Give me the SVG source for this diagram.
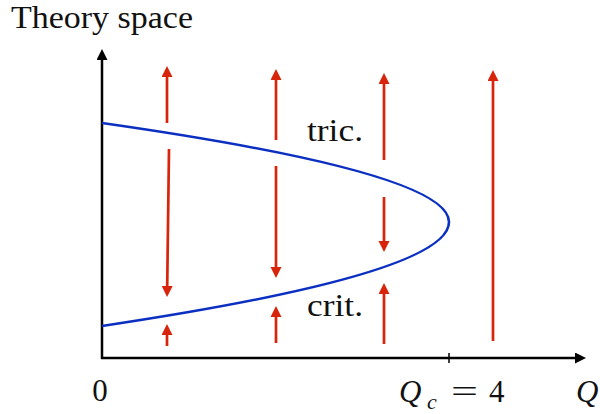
<svg xmlns="http://www.w3.org/2000/svg" width="600" height="414" viewBox="0 0 600 414">
<style>
text{font-family:"Liberation Serif","DejaVu Serif",serif;font-size:31px;fill:#111}
.it{font-style:italic}
.axis{stroke:#000;stroke-width:2.5;fill:none}
.flow{stroke:#d8240a;stroke-width:2.7;fill:none;marker-end:url(#rh)}
.curve{stroke:#0b2fc1;stroke-width:2.6;fill:none}
</style>
<defs>
<marker id="rh" markerUnits="userSpaceOnUse" markerWidth="12" markerHeight="12" refX="1" refY="5.5" orient="auto">
<path d="M0,0 L11,5.5 L0,11 z" fill="#d8240a"/>
</marker>
<marker id="kh" markerUnits="userSpaceOnUse" markerWidth="12" markerHeight="12" refX="1" refY="5.5" orient="auto">
<path d="M0,0 L11,5.5 L0,11 z" fill="#000"/>
</marker>
</defs>
<g id="axes">
<line class="axis" x1="102" y1="359" x2="102" y2="59" marker-end="url(#kh)"/>
<line class="axis" x1="101" y1="358" x2="576" y2="358" marker-end="url(#kh)"/>
<line x1="449" y1="353" x2="449" y2="363" stroke="#000" stroke-width="1.5"/>
</g>
<g id="boundary">
<path class="curve" d="M102,123 Q449,172.5 449,222 Q449,274 102,326"/>
</g>
<g id="connectors">
<line class="flow" x1="167" y1="123" x2="167" y2="76"/>
<line class="flow" x1="169" y1="149" x2="167.2" y2="287"/>
<line class="flow" x1="167" y1="346" x2="167" y2="334"/>
<line class="flow" x1="276" y1="140" x2="276" y2="79"/>
<line class="flow" x1="276" y1="166" x2="276" y2="268"/>
<line class="flow" x1="276" y1="343" x2="276" y2="316"/>
<line class="flow" x1="384" y1="160" x2="384" y2="83"/>
<line class="flow" x1="384" y1="197" x2="384" y2="242"/>
<line class="flow" x1="384" y1="344" x2="384" y2="293"/>
<line class="flow" x1="493" y1="341" x2="493" y2="80"/>
</g>
<g id="labels">
<text x="11" y="28" font-size="28" textLength="182" lengthAdjust="spacingAndGlyphs">Theory space</text>
<text x="307" y="141" textLength="56" lengthAdjust="spacingAndGlyphs">tric.</text>
<text x="307" y="316" textLength="56" lengthAdjust="spacingAndGlyphs">crit.</text>
<text x="100" y="401" text-anchor="middle">0</text>
<text><tspan class="it" x="399" y="402">Q</tspan><tspan class="it" x="427" y="409" font-size="22">c</tspan><tspan x="451" y="402" textLength="27" lengthAdjust="spacingAndGlyphs">=</tspan><tspan x="489" y="402">4</tspan></text>
<text class="it" x="576" y="402">Q</text>
</g>
</svg>
